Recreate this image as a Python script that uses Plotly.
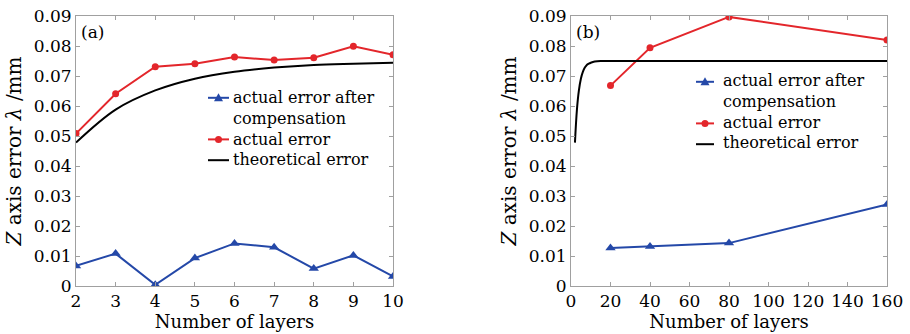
import plotly.graph_objects as go

# ---- data (a) ----
layers_a = [2, 3, 4, 5, 6, 7, 8, 9, 10]
actual_a = [0.0508, 0.0641, 0.0731, 0.0741, 0.0763, 0.0753, 0.0761, 0.0799, 0.0771]
comp_a = [0.0067, 0.0108, 0.0004, 0.0093, 0.0142, 0.0129, 0.0058, 0.0102, 0.0032]
theo_a = [0.0478, 0.0588, 0.0652, 0.0691, 0.0714, 0.0728, 0.0737, 0.0741, 0.0744]

# ---- data (b) ----
layers_b = [20, 40, 80, 160]
actual_b = [0.0668, 0.0794, 0.0897, 0.0820]
comp_b = [0.0127, 0.0132, 0.0143, 0.0272]
theo_b_x = [2, 3, 4, 5, 6, 7, 8, 9, 10, 12, 15, 20, 40, 80, 160]
theo_b = [0.0478, 0.0588, 0.0652, 0.0691, 0.0714, 0.0728, 0.0737, 0.0741, 0.0744,
          0.0748, 0.0750, 0.0750, 0.0750, 0.0750, 0.0750]

y_ticks = [0, 0.01, 0.02, 0.03, 0.04, 0.05, 0.06, 0.07, 0.08, 0.09]
y_ticktext = ["0", "0.01", "0.02", "0.03", "0.04", "0.05", "0.06", "0.07", "0.08", "0.09"]
legend_names = ["actual error after", "compensation", "actual error", "theoretical error"]

BLUE = "#2448a8"
RED = "#e3262b"
FONT = "DejaVu Serif"

W, H = 910, 334
MT, MB = 16, 48
PH = H - MT - MB

def px(x):
    return x / W

def py(y):
    return (H - MB - y) / PH

fig = go.Figure()

def add_panel(xa, ya, lx, comp, act, tx, theo):
    fig.add_trace(go.Scatter(x=lx, y=comp, mode="lines+markers", xaxis=xa, yaxis=ya,
                             name="actual error after compensation", showlegend=False,
                             line=dict(color=BLUE, width=2),
                             marker=dict(symbol="triangle-up", size=9, color=BLUE)))
    fig.add_trace(go.Scatter(x=lx, y=act, mode="lines+markers", xaxis=xa, yaxis=ya,
                             name="actual error", showlegend=False,
                             line=dict(color=RED, width=2),
                             marker=dict(symbol="circle", size=7, color=RED)))
    fig.add_trace(go.Scatter(x=tx, y=theo, mode="lines", xaxis=xa, yaxis=ya,
                             name="theoretical error", showlegend=False,
                             line=dict(color="black", width=2, shape="spline")))

add_panel("x", "y", layers_a, comp_a, actual_a, layers_a, theo_a)
add_panel("x2", "y2", layers_b, comp_b, actual_b, theo_b_x, theo_b)

axis_common = dict(showline=True, linecolor="#a0a0a0", linewidth=1, mirror="ticks",
                   ticks="inside", ticklen=4, tickcolor="#a0a0a0", showgrid=False,
                   zeroline=False, tickfont=dict(family=FONT, size=17, color="black"),
                   automargin=False)

ytitle = "<i>Z</i> axis error <i>λ</i> /mm"
xtitle = "Number of layers"
xtfont = dict(family=FONT, size=18, color="black")
ytfont = dict(family=FONT, size=20, color="black")

fig.update_layout(
    width=W, height=H,
    margin=dict(l=0, r=0, t=MT, b=MB),
    paper_bgcolor="white", plot_bgcolor="white",
    font=dict(family=FONT, size=17, color="black"),
    showlegend=False,
    xaxis=dict(domain=[px(76), px(393)], range=[2, 10], dtick=1, anchor="y",
               title=dict(text=xtitle, standoff=2, font=xtfont), **axis_common),
    yaxis=dict(domain=[0, 1], range=[0, 0.09], tickvals=y_ticks, ticktext=y_ticktext, anchor="x",
               title=dict(text=ytitle, standoff=6, font=ytfont), **axis_common),
    xaxis2=dict(domain=[px(571), px(887)], range=[0, 160], dtick=20, anchor="y2",
                title=dict(text=xtitle, standoff=2, font=xtfont), **axis_common),
    yaxis2=dict(domain=[0, 1], range=[0, 0.09], tickvals=y_ticks, ticktext=y_ticktext, anchor="x2",
                title=dict(text=ytitle, standoff=6, font=ytfont), **axis_common),
)

for xr, yr, lab in [("x domain", "y domain", "(a)"), ("x2 domain", "y2 domain", "(b)")]:
    fig.add_annotation(text=lab, x=0.01, y=0.985, xref=xr, yref=yr,
                       xanchor="left", yanchor="top", showarrow=False,
                       font=dict(family=FONT, size=17, color="black"))

LSIZE = 16
LSTEP = LSIZE * 1.3

def add_legend(sx0, sx1, tx, center):
    lfont = dict(family=FONT, size=LSIZE, color="black")
    fig.add_annotation(text="<br>".join(legend_names), x=px(tx), y=py(center),
                       xref="paper", yref="paper", align="left",
                       xanchor="left", yanchor="middle", showarrow=False, font=lfont,
                       borderpad=0)
    rows = [center + (i - 1.5) * LSTEP for i in range(4)]
    sym_rows = [rows[0] + 1, rows[2] + 1, rows[3] + 1]
    colors = [BLUE, RED, "black"]
    for c, yc in zip(colors, sym_rows):
        fig.add_shape(type="line", xref="paper", yref="paper",
                      x0=px(sx0), x1=px(sx1), y0=py(yc), y1=py(yc),
                      line=dict(color=c, width=2))
    xm = (sx0 + sx1) / 2
    yc = sym_rows[0]
    fig.add_shape(type="path", xref="paper", yref="paper",
                  path=f"M {px(xm-4.5)} {py(yc+3.5)} L {px(xm+4.5)} {py(yc+3.5)} L {px(xm)} {py(yc-4.5)} Z",
                  fillcolor=BLUE, line=dict(color=BLUE, width=0))
    yc = sym_rows[1]
    fig.add_shape(type="circle", xref="paper", yref="paper",
                  x0=px(xm-3.5), x1=px(xm+3.5), y0=py(yc+3.5), y1=py(yc-3.5),
                  fillcolor=RED, line=dict(color=RED, width=0))

add_legend(208, 229, 232, 128)
add_legend(696, 714, 722, 112)

fig.write_html("out.html")
